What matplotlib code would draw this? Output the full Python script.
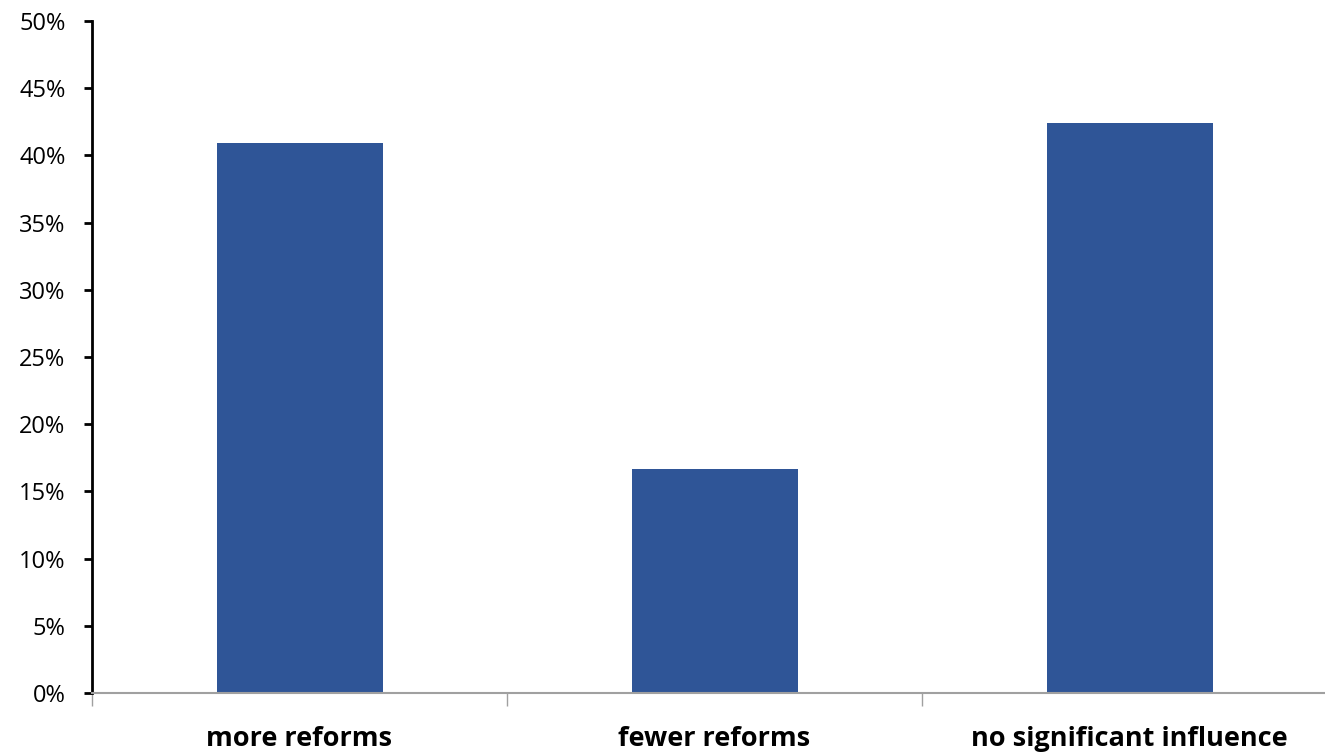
import matplotlib
matplotlib.use("Agg")
import matplotlib.pyplot as plt
from matplotlib.ticker import FixedLocator, PercentFormatter

categories = ["more reforms", "fewer reforms", "no significant influence"]
values = [40.9, 16.67, 42.41]
yticks = [0, 5, 10, 15, 20, 25, 30, 35, 40, 45, 50]

W, H = 1325, 753
fig = plt.figure(figsize=(W / 100, H / 100), dpi=100)
ax = fig.add_axes([92 / W, (H - 693) / H, 1245 / W, 672 / H])

x = list(range(len(categories)))
ax.bar(x, values, width=0.4, color="#2F5597", zorder=2)

ax.set_xlim(-0.5, len(categories) - 0.5)
ax.set_ylim(0, 50)
ax.set_yticks(yticks)
ax.yaxis.set_major_formatter(PercentFormatter(decimals=0))
ax.tick_params(axis="y", direction="out", length=6, width=2, color="black",
               labelsize=17, pad=13)
for lab in ax.get_yticklabels():
    lab.set_fontfamily("Open Sans")

ax.set_xticks(x)
ax.set_xticklabels(categories, fontsize=19.5, fontweight="bold", fontfamily="Open Sans")
ax.tick_params(axis="x", which="major", length=0, pad=24)
ax.xaxis.set_minor_locator(FixedLocator([i - 0.5 for i in range(len(categories))]))
ax.tick_params(axis="x", which="minor", direction="out", length=9, width=1, color="#A0A0A0")

for s in ["top", "right"]:
    ax.spines[s].set_visible(False)
ax.spines["left"].set_linewidth(2)
ax.spines["left"].set_color("black")
ax.spines["bottom"].set_linewidth(1.5)
ax.spines["bottom"].set_color("#A0A0A0")

fig.savefig("out.png", dpi=100)
